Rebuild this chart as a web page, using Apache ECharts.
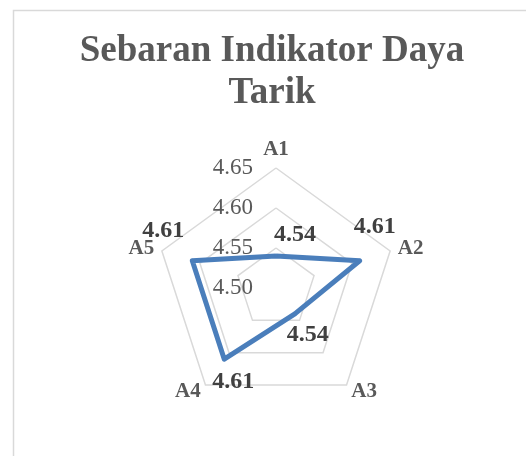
<!DOCTYPE html>
<html>
<head>
<meta charset="utf-8">
<script src="https://cdn.jsdelivr.net/npm/echarts@6/dist/echarts.min.js"></script>
<style>
  html, body { margin: 0; padding: 0; background: #fff; }
  #chart { width: 526px; height: 456px; }
</style>
</head>
<body>
<div id="chart"></div>
<script>
// indikator dan nilai rata-rata
const categories = ['A1', 'A2', 'A3', 'A4', 'A5'];
const values = [4.54, 4.61, 4.54, 4.61, 4.61];
const axisMin = 4.50;
const axisMax = 4.65;

const center = [276, 288];
// geser label nilai (dx, dy) per indikator, A1..A5
const labelOffsets = [[19, -21], [15, -34], [13, 21], [9, 23], [-29, -30]];

// echarts menyusun indikator berlawanan arah jarum jam, jadi urutan dibalik
const order = [0].concat(categories.map((c, i) => i).slice(1).reverse());

const chart = echarts.init(document.getElementById('chart'));

const option = {
  animation: false,
  title: {
    text: 'Sebaran Indikator Daya\nTarik',
    left: 272,
    top: 30,
    padding: 0,
    textAlign: 'center',
    textStyle: {
      fontFamily: 'Liberation Serif',
      fontWeight: 'bold',
      fontSize: 37,
      lineHeight: 42,
      color: '#595959'
    }
  },
  graphic: [{
    type: 'rect',
    left: 11,
    top: 8,
    shape: { width: 600, height: 600 },
    style: { fill: 'none', stroke: '#d9d9d9', lineWidth: 1.5 },
    silent: true
  }],
  radar: {
    center: center,
    radius: 120,
    splitNumber: 3,
    nameGap: 8,
    axisName: {
      fontFamily: 'Liberation Serif',
      fontWeight: 'bold',
      fontSize: 21,
      color: '#595959'
    },
    axisLine: { show: false },
    axisTick: { show: false },
    axisLabel: { show: false },
    splitArea: { show: false },
    splitLine: { lineStyle: { color: '#d9d9d9', width: 1.5 } },
    indicator: order.map((i, k) => ({
      name: categories[i],
      min: axisMin,
      max: axisMax,
      axisLabel: k === 0 ? {
        show: true,
        margin: 23,
        fontFamily: 'Liberation Serif',
        fontSize: 23,
        color: '#595959',
        formatter: v => v.toFixed(2)
      } : { show: false }
    }))
  },
  series: [{
    type: 'radar',
    symbol: 'circle',
    symbolSize: 4,
    lineStyle: { color: '#4a7ebb', width: 5 },
    itemStyle: { color: '#4a7ebb' },
    label: {
      show: true,
      position: 'inside',
      fontFamily: 'Liberation Serif',
      fontWeight: 'bold',
      fontSize: 24,
      color: '#404040',
      formatter: p => (+p.value).toFixed(2)
    },
    labelLayout: function (params) {
      const r = params.rect;
      const px = r.x + r.width / 2;
      const py = r.y + r.height / 2;
      const ang = Math.atan2(center[1] - py, px - center[0]) * 180 / Math.PI;
      const k = ((Math.round((90 - ang) / 72) % 5) + 5) % 5;
      return { dx: labelOffsets[k][0], dy: labelOffsets[k][1], hideOverlap: false };
    },
    data: [{ value: order.map(i => values[i]) }]
  }]
};

chart.setOption(option);
</script>
</body>
</html>
